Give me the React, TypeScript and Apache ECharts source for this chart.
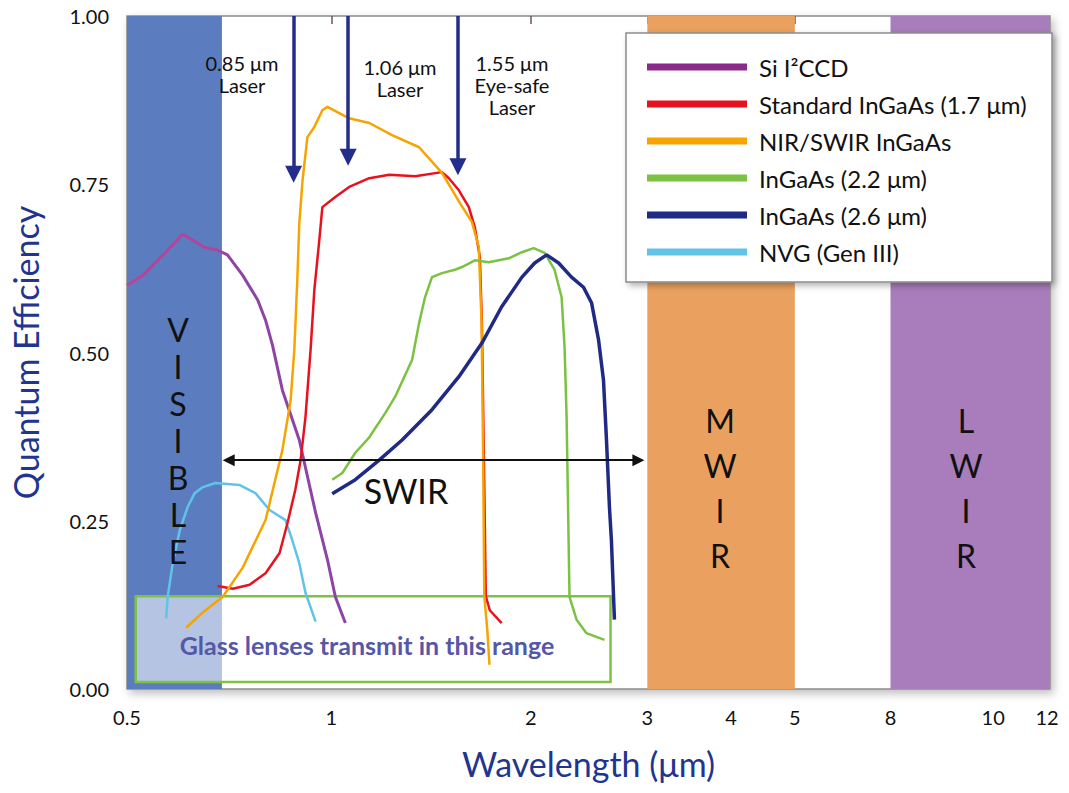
import React, { useEffect, useRef } from "react";
import * as echarts from "echarts";

// ---- axis ticks ----
const TICK_WAVELENGTHS = [0.5, 1, 2, 3, 4, 5, 8, 10, 12];
const TICK_LABELS = ["0.5", "1", "2", "3", "4", "5", "8", "10", "12"];
const TOP_TICK_WAVELENGTHS = [0.68, 1, 2, 3, 4, 5, 10];
const RIGHT_TICKS = [0.25, 0.5];

// piecewise-logarithmic wavelength scale of the original figure (broken after 5 µm)
const SCALE_WAVELENGTHS = [0.5, 1, 2, 3, 4, 5, 8, 10, 12];
const SCALE_UNITS = [0, 205, 405, 522, 606, 670, 766, 869, 923];
const AXIS_MAX_UNITS = 926;

// ---- series (wavelength µm, quantum efficiency) ----
const SERIES_NAMES = [
  "Si I²CCD",
  "Standard InGaAs (1.7 μm)",
  "NIR/SWIR InGaAs",
  "InGaAs (2.2 μm)",
  "InGaAs (2.6 μm)",
  "NVG (Gen III)",
];

const SI_I2CCD = [
  [0.5, 0.6], [0.528, 0.615], [0.565, 0.645], [0.604, 0.676], [0.625, 0.667],
  [0.647, 0.657], [0.68, 0.652], [0.703, 0.645], [0.74, 0.615], [0.779, 0.578],
  [0.8, 0.548], [0.819, 0.511], [0.847, 0.444], [0.897, 0.37], [0.948, 0.262],
  [0.987, 0.192], [1.014, 0.137], [1.05, 0.098],
];

const STD_INGAAS = [
  [0.68, 0.153], [0.716, 0.149], [0.758, 0.155], [0.8, 0.172], [0.839, 0.202],
  [0.862, 0.247], [0.885, 0.296], [0.901, 0.34], [0.916, 0.404], [0.932, 0.504],
  [0.944, 0.593], [0.96, 0.667], [0.97, 0.716], [1.014, 0.731], [1.064, 0.746],
  [1.141, 0.759], [1.223, 0.764], [1.338, 0.762], [1.469, 0.768], [1.505, 0.759],
  [1.558, 0.741], [1.613, 0.716], [1.647, 0.686], [1.676, 0.642], [1.688, 0.544],
  [1.699, 0.355], [1.711, 0.138], [1.735, 0.117], [1.808, 0.098],
];

const NIR_SWIR = [
  [0.611, 0.091], [0.647, 0.114], [0.692, 0.137], [0.74, 0.18], [0.8, 0.251],
  [0.847, 0.355], [0.871, 0.429], [0.882, 0.504], [0.891, 0.608], [0.897, 0.692],
  [0.907, 0.756], [0.922, 0.82], [0.944, 0.835], [0.97, 0.86], [0.987, 0.865],
  [1.064, 0.848], [1.141, 0.841], [1.235, 0.823], [1.357, 0.805], [1.469, 0.767],
  [1.564, 0.722], [1.63, 0.694], [1.67, 0.657], [1.686, 0.544], [1.695, 0.355],
  [1.702, 0.138], [1.72, 0.088], [1.733, 0.036],
];

const INGAAS_22 = [
  [1.003, 0.311], [1.039, 0.321], [1.087, 0.351], [1.141, 0.374], [1.206, 0.41],
  [1.248, 0.434], [1.324, 0.489], [1.357, 0.544], [1.385, 0.582], [1.419, 0.612],
  [1.469, 0.618], [1.537, 0.623], [1.575, 0.627], [1.647, 0.637], [1.729, 0.634],
  [1.853, 0.64], [1.94, 0.649], [2.021, 0.655], [2.099, 0.648], [2.173, 0.623],
  [2.227, 0.582], [2.25, 0.508], [2.266, 0.404], [2.289, 0.137], [2.346, 0.103],
  [2.428, 0.083], [2.585, 0.073],
];

const INGAAS_26 = [
  [1.003, 0.29], [1.087, 0.311], [1.181, 0.34], [1.279, 0.37], [1.419, 0.415],
  [1.558, 0.464], [1.688, 0.514], [1.808, 0.568], [1.94, 0.612], [2.028, 0.633],
  [2.114, 0.645], [2.204, 0.633], [2.305, 0.612], [2.403, 0.597], [2.471, 0.574],
  [2.532, 0.519], [2.576, 0.459], [2.603, 0.37], [2.63, 0.27], [2.648, 0.221],
  [2.676, 0.103],
];

const NVG_GEN3 = [
  [0.571, 0.105], [0.574, 0.137], [0.584, 0.187], [0.598, 0.236], [0.614, 0.27],
  [0.629, 0.291], [0.647, 0.3], [0.675, 0.306], [0.733, 0.303], [0.773, 0.291],
  [0.811, 0.266], [0.856, 0.251], [0.876, 0.221], [0.897, 0.187], [0.916, 0.143],
  [0.948, 0.1],
];

// ---- annotations (wavelength µm / QE) ----
const BANDS = [
  { from: 0.5, to: 0.69 },
  { from: 3, to: 5 },
  { from: 8, to: null },
];
const LASER_ARROWS = [
  { x: 0.88, yEnd: 0.765 },
  { x: 1.06, yEnd: 0.79 },
  { x: 1.553, yEnd: 0.776 },
];
const SWIR_RANGE = { from: 0.706, to: 2.908, y: 0.34 };
const GLASS_BOX = { from: 0.515, to: 2.64, top: 0.138, bottom: 0.0105 };

const FONT = "Lato, 'Open Sans', sans-serif";

function toAxis(w: number): number {
  const W = SCALE_WAVELENGTHS;
  const U = SCALE_UNITS;
  let i = 0;
  while (i < W.length - 2 && w > W[i + 1]) i++;
  const t = Math.log(w / W[i]) / Math.log(W[i + 1] / W[i]);
  return U[i] + t * (U[i + 1] - U[i]);
}

function conv(arr: number[][]) {
  return arr.map(([w, q]) => [toAxis(w), q]);
}

export default function App() {
  const ref = useRef<HTMLDivElement>(null);

  useEffect(() => {
    if (!ref.current) return;
    const chart = echarts.init(ref.current, null, { renderer: "svg" });

    const tickUnits = TICK_WAVELENGTHS.map(toAxis);
    const labelFor = (v: number) => {
      let best = 0;
      tickUnits.forEach((u, i) => {
        if (Math.abs(u - v) < Math.abs(tickUnits[best] - v)) best = i;
      });
      return TICK_LABELS[best];
    };

    const baseLine = (name: string, data: number[][], color: any, width: number, z: number, legendColor?: string) => ({
      name,
      type: "line",
      data: conv(data),
      showSymbol: false,
      symbol: "none",
      z,
      lineStyle: { color, width },
      itemStyle: { color: legendColor || color },
      emphasis: { disabled: true },
      silent: true,
    });

    const purpleGradient = {
      type: "linear",
      x: 0,
      y: 0,
      x2: 1,
      y2: 0,
      colorStops: [
        { offset: 0, color: "#b5459a" },
        { offset: 0.4, color: "#b0449c" },
        { offset: 0.47, color: "#8e44a6" },
        { offset: 1, color: "#8e44a6" },
      ],
    };

    const textEl = (text: string, x: number, y: number, fontSize: number, lineHeight: number, extra: any = {}) => ({
      type: "text",
      z: 10,
      silent: true,
      style: {
        text,
        x,
        y,
        align: "center",
        verticalAlign: "middle",
        fontSize,
        lineHeight,
        fontFamily: FONT,
        fill: "#111",
        ...extra,
      },
    });

    const option: any = {
      animation: false,
      grid: {
        left: 124,
        top: 16,
        right: 19,
        bottom: 104,
        show: true,
        backgroundColor: "#ffffff",
        borderColor: "#8a8a8a",
        borderWidth: 1.5,
        shadowBlur: 8,
        shadowColor: "rgba(0,0,0,0.25)",
        shadowOffsetX: 3,
        shadowOffsetY: 4,
      },
      xAxis: [
        {
          type: "value",
          min: 0,
          max: AXIS_MAX_UNITS,
          splitLine: { show: false },
          axisLine: { show: false, onZero: false },
          axisTick: { show: false },
          axisLabel: {
            customValues: tickUnits,
            formatter: (v: number) => labelFor(v),
            fontSize: 20,
            color: "#111",
            fontFamily: FONT,
            margin: 18,
          },
          name: "Wavelength (μm)",
          nameLocation: "middle",
          nameGap: 57,
          nameTextStyle: { fontSize: 34, color: "#1f3590", fontFamily: FONT },
        },
        {
          type: "value",
          position: "top",
          min: 0,
          max: AXIS_MAX_UNITS,
          splitLine: { show: false },
          axisLine: { show: false, onZero: false },
          axisLabel: { show: false },
          axisTick: {
            show: true,
            inside: true,
            length: 8,
            customValues: TOP_TICK_WAVELENGTHS.map(toAxis),
            lineStyle: { color: "#6b5a50", width: 1.5 },
          },
        },
      ],
      yAxis: [
        {
          type: "value",
          min: 0,
          max: 1,
          interval: 0.25,
          splitLine: { show: false },
          axisLine: { show: false, onZero: false },
          axisTick: { show: false },
          axisLabel: {
            formatter: (v: number) => v.toFixed(2),
            fontSize: 20,
            color: "#111",
            fontFamily: FONT,
            margin: 18,
          },
          name: "Quantum Efficiency",
          nameLocation: "middle",
          nameGap: 85,
          nameTextStyle: { fontSize: 34, color: "#1f3590", fontFamily: FONT },
        },
        {
          type: "value",
          position: "right",
          min: 0,
          max: 1,
          splitLine: { show: false },
          axisLine: { show: false, onZero: false },
          axisLabel: { show: false },
          axisTick: {
            show: true,
            inside: true,
            length: 9,
            customValues: RIGHT_TICKS,
            lineStyle: { color: "#7a5a8a", width: 1.5 },
          },
        },
      ],
      legend: {
        data: SERIES_NAMES,
        orient: "vertical",
        left: 626,
        top: 33,
        padding: [22, 20, 18, 21],
        itemGap: 13,
        itemWidth: 100,
        itemHeight: 7,
        icon: "rect",
        selectedMode: false,
        z: 6,
        textStyle: {
          fontSize: 24,
          lineHeight: 24,
          color: "#111",
          fontFamily: FONT,
          padding: [0, 0, 0, 7],
        },
      },
      graphic: [
        {
          type: "rect",
          z: 5,
          silent: true,
          shape: { x: 626, y: 33, width: 426, height: 249 },
          style: {
            fill: "#ffffff",
            stroke: "#8c8c8c",
            lineWidth: 1.5,
            shadowBlur: 6,
            shadowColor: "rgba(0,0,0,0.3)",
            shadowOffsetX: 3,
            shadowOffsetY: 3,
          },
        },
        textEl("V\nI\nS\nI\nB\nL\nE", 178, 440, 32, 37),
        textEl("M\nW\nI\nR", 720, 488, 32, 45),
        textEl("L\nW\nI\nR", 966, 488, 32, 45),
        textEl("0.85 μm\nLaser", 242, 74, 20, 22),
        textEl("1.06 μm\nLaser", 400, 78, 20, 22),
        textEl("1.55 μm\nEye-safe\nLaser", 512, 85, 20, 22),
        textEl("SWIR", 406, 490, 34, 34),
        textEl("Glass lenses transmit in this range", 367, 645, 25, 25, { fontWeight: "bold", fill: "#5558a6" }),
      ],
      series: [
        {
          name: "bands",
          type: "line",
          data: [],
          z: 1,
          silent: true,
          markArea: {
            silent: true,
            data: BANDS.map((b, i) => [
              {
                xAxis: toAxis(b.from),
                itemStyle: { color: ["#5b7dbf", "#eaa15f", "#a97cbb"][i] },
              },
              { xAxis: b.to === null ? AXIS_MAX_UNITS : toAxis(b.to) },
            ]),
          },
        },
        baseLine(SERIES_NAMES[5], NVG_GEN3, "#62c3e8", 2.5, 2),
        baseLine(SERIES_NAMES[0], SI_I2CCD, purpleGradient, 3, 2, "#8b2a8b"),
        baseLine(SERIES_NAMES[1], STD_INGAAS, "#e8121f", 2.5, 2),
        baseLine(SERIES_NAMES[2], NIR_SWIR, "#f7a400", 2.5, 2),
        baseLine(SERIES_NAMES[3], INGAAS_22, "#7cc242", 2.5, 2),
        {
          name: "glass",
          type: "line",
          data: [],
          z: 3,
          silent: true,
          markArea: {
            silent: true,
            itemStyle: {
              color: "rgba(255,255,255,0.55)",
              borderColor: "#7dc242",
              borderWidth: 2.5,
            },
            data: [
              [
                { xAxis: toAxis(GLASS_BOX.from), yAxis: GLASS_BOX.top },
                { xAxis: toAxis(GLASS_BOX.to), yAxis: GLASS_BOX.bottom },
              ],
            ],
          },
        },
        baseLine(SERIES_NAMES[4], INGAAS_26, "#1f2a84", 3.5, 4),
        {
          name: "laserArrows",
          type: "line",
          data: [],
          z: 7,
          silent: true,
          markLine: {
            silent: true,
            symbol: ["none", "triangle"],
            symbolSize: 17,
            label: { show: false },
            lineStyle: { color: "#232d8c", width: 3.5, type: "solid" },
            data: LASER_ARROWS.map((a) => [
              { coord: [toAxis(a.x), 1.0] },
              { coord: [toAxis(a.x), a.yEnd] },
            ]),
          },
        },
        {
          name: "swirArrow",
          type: "line",
          data: [],
          z: 7,
          silent: true,
          markLine: {
            silent: true,
            symbol: ["triangle", "triangle"],
            symbolSize: 12,
            label: { show: false },
            lineStyle: { color: "#111", width: 2, type: "solid" },
            data: [
              [
                { coord: [toAxis(SWIR_RANGE.from), SWIR_RANGE.y] },
                { coord: [toAxis(SWIR_RANGE.to), SWIR_RANGE.y] },
              ],
            ],
          },
        },
      ],
    };

    chart.setOption(option);
    return () => chart.dispose();
  }, []);

  return (
    <div
      ref={ref}
      style={{ position: "fixed", left: 0, top: 0, width: 1069, height: 793, background: "#fff" }}
    />
  );
}
